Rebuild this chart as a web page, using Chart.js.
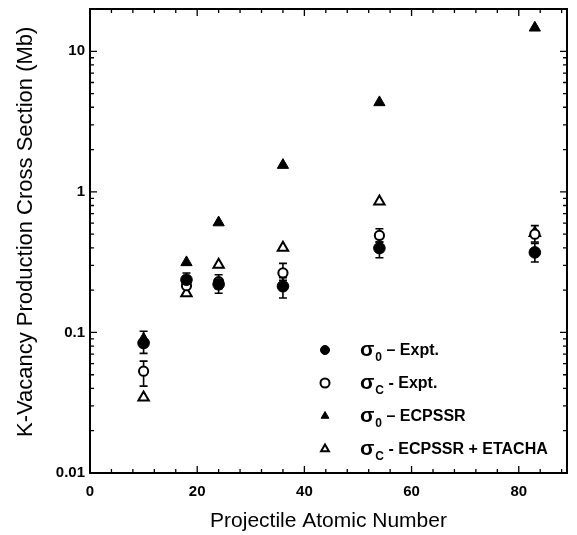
<!DOCTYPE html>
<html>
<head>
<meta charset="utf-8">
<script src="https://cdn.jsdelivr.net/npm/chart.js@4"></script>
<style>
  html, body { margin: 0; padding: 0; background: #fff; }
  #wrap { width: 577px; height: 535px; position: relative; }
</style>
</head>
<body>
<div id="wrap"><canvas id="c" width="577" height="535"></canvas></div>
<script>
// projectile atomic numbers
const Z = [10, 18, 24, 36, 54, 83];

// sigma_0 experiment (filled circles) + error bars
const sig0Expt = [0.084, 0.237, 0.22, 0.213, 0.398, 0.371];
const sig0Lo   = [0.071, 0.21, 0.19, 0.176, 0.34, 0.317];
const sig0Hi   = [0.102, 0.265, 0.24, 0.245, 0.44, 0.43];

// sigma_C experiment (open circles) + error bars
const sigCExpt = [0.053, 0.215, 0.23, 0.265, 0.49, 0.50];
const sigCLo   = [0.0415, 0.19, 0.205, 0.235, 0.44, 0.44];
const sigCHi   = [0.0625, 0.24, 0.257, 0.31, 0.546, 0.575];

// theory
const sig0Ecpssr = [0.09, 0.315, 0.605, 1.55, 4.33, 14.7];
const sigCEtacha = [0.0345, 0.19, 0.303, 0.40, 0.853, 0.51];

const X_TICKS = [0, 20, 40, 60, 80];
const Y_TICKS = [0.01, 0.1, 1, 10];

const LEGEND_SUB  = ['0', 'C', '0', 'C'];
const LEGEND_TEXT = [' \u2013 Expt.', ' - Expt.', ' \u2013 ECPSSR', ' - ECPSSR + ETACHA'];

const FONT = '"Liberation Sans", Arial, sans-serif';

const pts = ys => Z.map((z, i) => ({ x: z, y: ys[i] }));

const errorBars = {
  id: 'errorBars',
  beforeDatasetsDraw(chart) {
    const { ctx, scales: { x, y } } = chart;
    ctx.save();
    ctx.strokeStyle = '#000';
    ctx.lineWidth = 1.6;
    [[sig0Lo, sig0Hi], [sigCLo, sigCHi]].forEach(([lo, hi]) => {
      Z.forEach((z, i) => {
        const px = x.getPixelForValue(z);
        const p1 = y.getPixelForValue(lo[i]);
        const p2 = y.getPixelForValue(hi[i]);
        ctx.beginPath();
        ctx.moveTo(px, p1); ctx.lineTo(px, p2);
        ctx.moveTo(px - 4, p1); ctx.lineTo(px + 4, p1);
        ctx.moveTo(px - 4, p2); ctx.lineTo(px + 4, p2);
        ctx.stroke();
      });
    });
    ctx.restore();
  }
};

const frame = {
  id: 'frame',
  afterDraw(chart) {
    const { ctx, chartArea: a, scales: { x, y } } = chart;
    ctx.save();
    ctx.strokeStyle = '#000';
    ctx.lineWidth = 2;
    ctx.strokeRect(a.left, a.top, a.right - a.left, a.bottom - a.top);
    ctx.lineWidth = 1.3;
    ctx.beginPath();
    for (let v = 0; v <= x.max; v += 4) {
      const px = x.getPixelForValue(v);
      const len = v % 20 === 0 ? 7 : 4;
      ctx.moveTo(px, a.bottom); ctx.lineTo(px, a.bottom - len);
      ctx.moveTo(px, a.top); ctx.lineTo(px, a.top + len);
    }
    for (let d = 0.01; d < y.max; d *= 10) {
      for (let k = 1; k <= 9; k++) {
        const v = d * k;
        if (v > y.max) break;
        const py = y.getPixelForValue(v);
        const len = k === 1 ? 7 : 4;
        ctx.moveTo(a.left, py); ctx.lineTo(a.left + len, py);
        ctx.moveTo(a.right, py); ctx.lineTo(a.right - len, py);
      }
    }
    ctx.stroke();

    // legend
    const lx = 325, tx = 360, y0 = 350, dy = 33;
    chart.data.datasets.forEach((ds, i) => {
      const ly = y0 + i * dy;
      ctx.fillStyle = ds.backgroundColor;
      ctx.strokeStyle = '#000';
      ctx.lineWidth = ds.borderWidth;
      Chart.helpers.drawPoint(ctx, { pointStyle: ds.pointStyle, radius: 4.5, borderWidth: ds.borderWidth }, lx, ly);
      ctx.fillStyle = '#000';
      ctx.textBaseline = 'alphabetic';
      ctx.textAlign = 'left';
      ctx.font = 'bold 21px ' + FONT;
      ctx.fillText('\u03c3', tx, ly + 6);
      let w = ctx.measureText('\u03c3').width;
      ctx.font = 'bold 12px ' + FONT;
      ctx.fillText(LEGEND_SUB[i], tx + w + 1, ly + 11);
      w += ctx.measureText(LEGEND_SUB[i]).width + 1;
      ctx.font = 'bold 16px ' + FONT;
      ctx.fillText(LEGEND_TEXT[i], tx + w, ly + 5);
    });
    ctx.restore();
  }
};

new Chart(document.getElementById('c'), {
  type: 'scatter',
  data: {
    datasets: [
      { label: 'sigma0 Expt', data: pts(sig0Expt), pointStyle: 'circle', pointRadius: 5.8,
        backgroundColor: '#000', borderColor: '#000', borderWidth: 1 },
      { label: 'sigmaC Expt', data: pts(sigCExpt), pointStyle: 'circle', pointRadius: 4.6,
        backgroundColor: '#fff', borderColor: '#000', borderWidth: 2 },
      { label: 'sigma0 ECPSSR', data: pts(sig0Ecpssr), pointStyle: 'triangle', pointRadius: 6.5,
        backgroundColor: '#000', borderColor: '#000', borderWidth: 1 },
      { label: 'sigmaC ECPSSR+ETACHA', data: pts(sigCEtacha), pointStyle: 'triangle', pointRadius: 6,
        backgroundColor: '#fff', borderColor: '#000', borderWidth: 2 }
    ]
  },
  options: {
    responsive: false,
    animation: false,
    devicePixelRatio: 1,
    layout: { padding: { top: 9, right: 10, left: 0, bottom: 0 } },
    plugins: { legend: { display: false }, tooltip: { enabled: false } },
    scales: {
      x: {
        type: 'linear', min: 0, max: 89,
        grid: { display: false, drawTicks: false },
        border: { display: false },
        afterBuildTicks: s => { s.ticks = X_TICKS.map(v => ({ value: v })); },
        afterFit: s => { s.height = 62; s.paddingLeft = 0; s.paddingRight = 0; },
        ticks: { color: '#000', padding: 10, font: { family: FONT, size: 15, weight: 'bold' } },
        title: { display: true, text: 'Projectile Atomic Number', color: '#000',
                 padding: { top: 0, bottom: 1 }, font: { family: FONT, size: 21 } }
      },
      y: {
        type: 'logarithmic', min: 0.01, max: 20,
        grid: { display: false, drawTicks: false },
        border: { display: false },
        afterBuildTicks: s => { s.ticks = Y_TICKS.map(v => ({ value: v })); },
        afterFit: s => { s.width = 90; s.paddingTop = 0; s.paddingBottom = 0; },
        ticks: { color: '#000', padding: 5, font: { family: FONT, size: 15, weight: 'bold' },
                 callback: v => String(v) },
        title: { display: true, text: '\u00a0\u00a0\u00a0K-Vacancy Production Cross Section (Mb)', color: '#000',
                 padding: { top: 13, bottom: 0 }, font: { family: FONT, size: 22 } }
      }
    }
  },
  plugins: [errorBars, frame]
});
</script>
</body>
</html>
